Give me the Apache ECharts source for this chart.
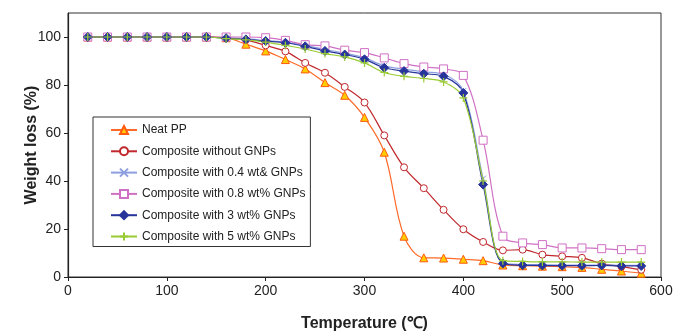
<!DOCTYPE html>
<html>
<head>
<meta charset="utf-8">
<script src="https://cdn.jsdelivr.net/npm/echarts@6/dist/echarts.min.js"></script>
<style>html,body{margin:0;padding:0;background:#fff}#c{width:679px;height:333px}</style>
</head>
<body>
<div id="c"></div>
<script>
const temps = [20,40,60,80,100,120,140,160,180,200,220,240,260,280,300,320,340,360,380,400,420,440,460,480,500,520,540,560,580];
const neatPP = [100,100,100,100,100,100,100,99.7,97,94.2,90.6,86.7,81,75.7,66.5,52,17,8,7.9,7.4,6.8,5,4.7,4.5,4.3,4,3.2,2.5,1.6];
const withoutGNPs = [100,100,100,100,100,100,100,99.6,98.8,96.5,94,89.2,85.1,79.2,72.7,59,45.7,37,28,19.9,14.6,11.1,11.4,9.3,8.6,8,5.6,4.3,3];
const gnp04 = [100,100,100,100,100,100,100,99.6,99.3,98.5,97.8,96.5,94.8,93.3,91.3,88,86.6,85.5,84.5,77.5,41,5.8,5.2,5.1,5,5,5,4.9,4.9];
const gnp08 = [100,100,100,100,100,100,100,100,100,99.7,98.6,96.8,96.3,94.5,93.5,91.3,88.9,87.5,86.7,84,57,17,14.2,13.5,12.1,12.1,11.8,11.4,11.4];
const gnp3 = [100,100,100,100,100,100,100,99.5,99,98.3,97.6,96.1,94.2,92.7,90.7,87.2,85.8,84.7,83.6,76.7,38.5,5.6,4.9,4.8,4.7,4.7,4.8,4.6,4.6];
const gnp5 = [100,100,100,100,100,100,100,99.3,98.8,97.9,96.5,95,93.1,91.7,89.2,85.2,83.6,82.7,81.3,74.6,40,6.8,6.5,6.3,6.3,6.2,6.2,6.2,6.2];
const xTicks = [0,100,200,300,400,500,600];
const yTicks = [0,20,40,60,80,100];
const seriesNames = ['Neat PP','Composite without GNPs','Composite with 0.4 wt& GNPs','Composite with 0.8 wt% GNPs','Composite with 3 wt% GNPs','Composite with 5 wt% GNPs'];

const pair = arr => temps.map((t,i)=>[t,arr[i]]);
const FONT = '"Liberation Sans", Arial, sans-serif';
const SM = 0.35;

const chart = echarts.init(document.getElementById('c'), null, {renderer:'canvas'});
chart.setOption({
  animation:false,
  backgroundColor:'#fff',
  grid:{left:68,right:18,top:13,bottom:56,containLabel:false,outerBoundsMode:'none',show:true,borderColor:'#333',borderWidth:1,backgroundColor:'transparent'},
  legend:{
    orient:'vertical', left:93, top:117,
    padding:[7,5,4,17], itemGap:9.3, itemWidth:26, itemHeight:10,
    backgroundColor:'#fff', borderColor:'#333', borderWidth:1,
    textStyle:{fontSize:12,fontFamily:FONT,color:'#222'},
    data:seriesNames
  },
  xAxis:{
    type:'value', min:0, max:600, interval:100,
    name:'Temperature (℃)', nameLocation:'middle', nameGap:39, nameMoveOverlap:false,
    nameTextStyle:{fontSize:16,fontWeight:'bold',fontFamily:FONT,color:'#222'},
    axisLine:{show:true,lineStyle:{color:'#222',width:1.2}},
    axisTick:{show:true,inside:false,length:4,lineStyle:{color:'#222'},customValues:xTicks},
    axisLabel:{fontSize:14,fontFamily:FONT,color:'#222',margin:7,customValues:xTicks},
    splitLine:{show:false}
  },
  yAxis:{
    type:'value', min:0, max:110, interval:20,
    name:'Weight loss (%)', nameLocation:'middle', nameGap:28, nameMoveOverlap:false,
    nameTextStyle:{fontSize:16,fontWeight:'bold',fontFamily:FONT,color:'#222'},
    axisLine:{show:true,lineStyle:{color:'#222',width:1.2}},
    axisTick:{show:true,inside:false,length:4,lineStyle:{color:'#222'},customValues:yTicks},
    axisLabel:{fontSize:14,fontFamily:FONT,color:'#222',margin:7,customValues:yTicks},
    splitLine:{show:false}
  },
  series:[
    {name:seriesNames[0],type:'line',smooth:SM,data:pair(neatPP),symbol:'triangle',symbolSize:8,
     lineStyle:{color:'#ff6a28',width:1.2},itemStyle:{color:'#ffcc00',borderColor:'#ff5a10',borderWidth:1}},
    {name:seriesNames[1],type:'line',smooth:SM,data:pair(withoutGNPs),symbol:'circle',symbolSize:7,
     lineStyle:{color:'#c0282d',width:1.2},itemStyle:{color:'#fff',borderColor:'#c0282d',borderWidth:1}},
    {name:seriesNames[2],type:'line',smooth:SM,data:pair(gnp04),symbol:'path://M0,0L10,10M10,0L0,10',symbolSize:6,
     lineStyle:{color:'#8c9ee0',width:1.2},itemStyle:{color:'#8c9ee0',borderColor:'#8c9ee0',borderWidth:1}},
    {name:seriesNames[3],type:'line',smooth:SM,data:pair(gnp08),symbol:'rect',symbolSize:8,
     lineStyle:{color:'#d070c4',width:1.2},itemStyle:{color:'#fff',borderColor:'#d070c4',borderWidth:1}},
    {name:seriesNames[4],type:'line',smooth:SM,data:pair(gnp3),symbol:'diamond',symbolSize:9,
     lineStyle:{color:'#27359a',width:1.2},itemStyle:{color:'#27359a',borderColor:'#27359a',borderWidth:1}},
    {name:seriesNames[5],type:'line',smooth:SM,data:pair(gnp5),symbol:'path://M5,0L5,10M0,5L10,5',symbolSize:8,
     lineStyle:{color:'#99cc33',width:1.2},itemStyle:{color:'#99cc33',borderColor:'#99cc33',borderWidth:1.2}}
  ]
});
</script>
</body>
</html>
